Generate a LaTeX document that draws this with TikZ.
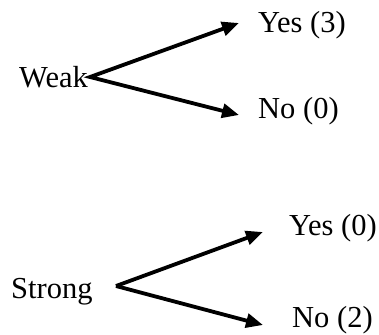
\documentclass[tikz,border=0pt]{standalone}
\usepackage{fontspec}
\setmainfont{Liberation Serif}
\usetikzlibrary{arrows.meta}
\begin{document}
\begin{tikzpicture}[x=1pt,y=-1pt,
  lbl/.style={inner sep=0pt,anchor=base west,font=\fontsize{30.5}{33}\selectfont},
  tip/.style={Triangle[length=17pt,width=14pt]},
  branch/.style={line width=3.8pt,-{Triangle[length=17pt,width=14pt]}}]
\useasboundingbox (0,0) rectangle (379,334);

% weak wind branch
\node[lbl] (weak) at (19,88) {Weak};
\node[lbl] (yes1) at (258,33) {Yes (3)};
\node[lbl] (no1) at (258,118) {No (0)};
\coordinate (w0) at (90,77);
\coordinate (wy) at (239,23);
\coordinate (wn) at (239,115);
\draw[line width=3.8pt,{Triangle[length=17pt,width=14pt]}-{Triangle[length=17pt,width=14pt]}] (wy) -- (w0) -- (wn);

% strong wind branch
\node[lbl] (strong) at (11,298) {Strong};
\node[lbl] (yes2) at (289,235) {Yes (0)};
\node[lbl] (no2) at (292,327) {No (2)};
\coordinate (s0) at (116,286);
\coordinate (sy) at (263,232);
\coordinate (sn) at (263,325);
\draw[branch] (s0) -- (sy);
\draw[branch] (s0) -- (sn);
\end{tikzpicture}
\end{document}
